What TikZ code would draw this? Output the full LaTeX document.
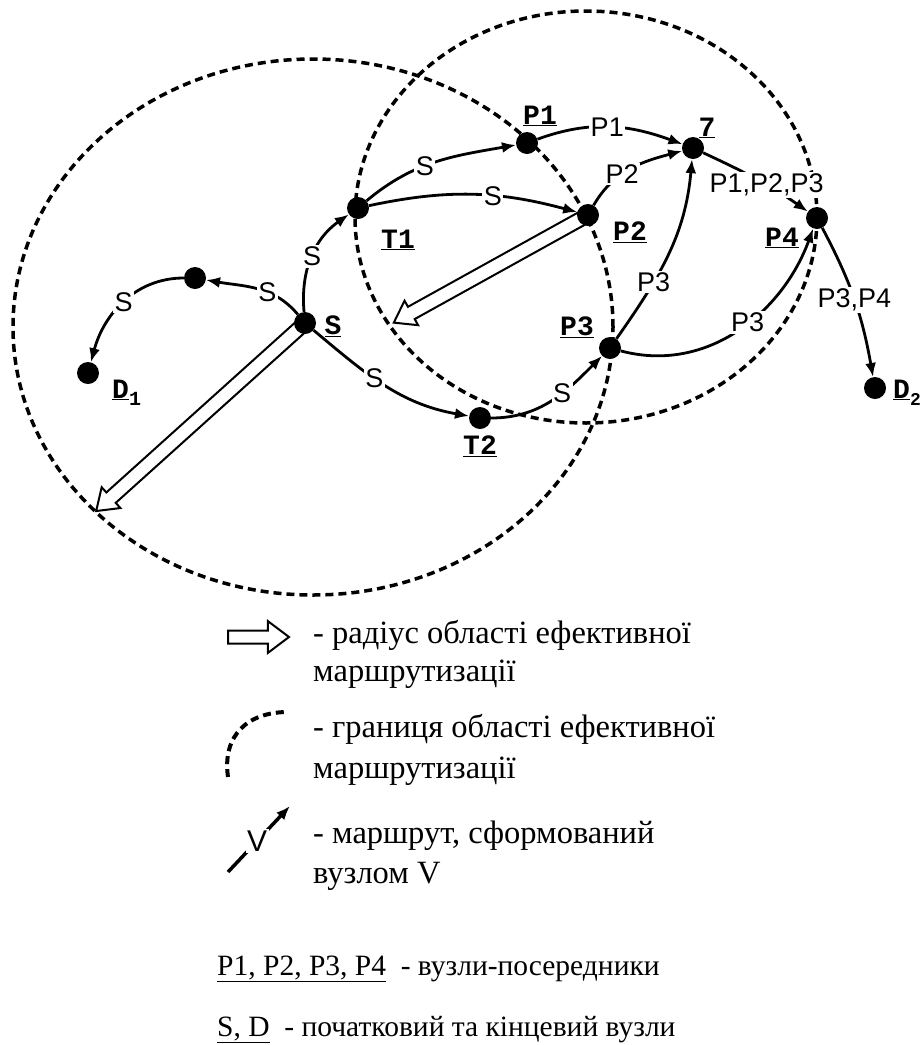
\documentclass[tikz,border=0pt]{standalone}
\usepackage{fontspec}
\setmainfont{Liberation Serif}
\setsansfont{Liberation Sans}
\setmonofont{Liberation Mono}
\usetikzlibrary{arrows.meta,shapes.arrows,calc}
\tikzset{
  dot/.style={circle, fill=black, inner sep=0pt, minimum size=22pt},
  zone/.style={line width=3.5pt, dash pattern=on 8pt off 5pt},
  route/.style={line width=2.8pt, -{Latex[length=14pt,width=11pt]}},
  rlab/.style={fill=white, inner sep=1.5pt, font=\fontsize{27}{27}\selectfont\sffamily},
  nlab/.style={inner sep=0pt, font=\fontsize{28}{28}\selectfont\ttfamily\bfseries},
  radarrow/.style={single arrow, draw, line width=2pt, fill=white, inner xsep=0pt,
     inner ysep=6pt, single arrow head extend=7pt, single arrow tip angle=70, anchor=tail},
  legtxt/.style={anchor=base west, inner sep=0pt, font=\fontsize{32.5}{32.5}\selectfont},
  keytxt/.style={anchor=base west, inner sep=0pt, font=\fontsize{29.5}{29.5}\selectfont},
}
\begin{document}
\begin{tikzpicture}[x=1pt,y=1pt]
\useasboundingbox (0,0) rectangle (923,-1045);
% positions
\coordinate (cS)  at (305,-323);
\coordinate (cT1) at (358,-208);
\coordinate (cT2) at (480,-418);
\coordinate (cU)  at (195,-278);
\coordinate (cD1) at (88,-373);
\coordinate (cP1) at (527,-143);
\coordinate (cP2) at (588,-215);
\coordinate (cP3) at (610,-348);
\coordinate (c7)  at (693,-148);
\coordinate (cP4) at (817,-218);
\coordinate (cD2) at (875,-388);
% zones
\draw[zone] (313,-327) ellipse [x radius=300pt, y radius=268pt];
\draw[zone] (586,-217) ellipse [x radius=231pt, y radius=206pt];
% radius arrows
\node[radarrow, minimum height=280pt, rotate=222] (rad1) at (cS) {};
\node[radarrow, minimum height=221pt, rotate=209] (rad2) at (cP2) {};
% nodes
\node[dot] (S)  at (cS) {};
\node[dot] (T1) at (cT1) {};
\node[dot] (T2) at (cT2) {};
\node[dot] (U)  at (cU) {};
\node[dot] (D1) at (cD1) {};
\node[dot] (P1) at (cP1) {};
\node[dot] (P2) at (cP2) {};
\node[dot] (P3) at (cP3) {};
\node[dot] (N7) at (c7) {};
\node[dot] (P4) at (cP4) {};
\node[dot] (D2) at (cD2) {};
% routes
\draw[route] (S) to[out=95,in=215] node[rlab,pos=0.5] {S} (T1);
\draw[route] (T1) to[out=40,in=190] node[rlab,pos=0.42] {S} (P1);
\draw[route] (T1) to[out=12,in=165] node[rlab,pos=0.6] {S} (P2);
\draw[route] (S) to[out=130,in=-10] node[rlab,pos=0.38] {S} (U);
\draw[route] (U) to[out=180,in=75] node[rlab,pos=0.5] {S} (D1);
\draw[route] (S) to[out=-40,in=170] node[rlab,pos=0.42] {S} (T2);
\draw[route] (T2) to[out=0,in=225] node[rlab,pos=0.6] {S} (P3);
\draw[route] (P1) to[out=20,in=160] node[rlab,pos=0.48] {P1} (N7);
\draw[route] (P2) to[out=60,in=195] node[rlab,pos=0.4] {P2} (N7);
\draw[route] (P3) to[out=55,in=265] node[rlab,pos=0.33] {P3} (N7);
\draw[route] (N7) to[out=-25,in=145] node[rlab,pos=0.6] {P1,P2,P3} (P4);
\draw[route] (P3) to[out=-15,in=250] node[rlab,pos=0.55] {P3} (P4);
\draw[route] (P4) to[out=-62,in=100] node[rlab,pos=0.5] {P3,P4} (D2);
% node labels
\node[nlab] (lS)  at (333,-326) {\underline{S}};
\node[nlab] (lT1) at (398,-240) {\underline{T1}};
\node[nlab] (lT2) at (480,-446) {\underline{T2}};
\node[nlab] (lP1) at (540,-116) {\underline{P1}};
\node[nlab] (l7)  at (707,-128) {\underline{7}};
\node[nlab] (lP2) at (630,-232) {\underline{P2}};
\node[nlab] (lP3) at (577,-327) {\underline{P3}};
\node[nlab] (lP4) at (782,-238) {\underline{P4}};
\node[nlab, anchor=base west] (lD1) at (112,-398) {\underline{D}\raisebox{-7pt}{\fontsize{20}{20}\selectfont 1}};
\node[nlab, anchor=base west] (lD2) at (893,-398) {\underline{D}\raisebox{-7pt}{\fontsize{18}{18}\selectfont 2}};
% legend
\node[radarrow, minimum height=61pt, inner ysep=5.5pt, single arrow head extend=9.5pt, single arrow tip angle=74] (legA) at (227,-637) {};
\draw[zone, line width=4pt] (228,-777) .. controls (222,-735) and (248,-712) .. (288,-712);
\coordinate (v1) at (228,-872);
\coordinate (v2) at (290,-806);
\draw[route, line width=3.5pt] (v1) -- node[rlab,pos=0.47,font=\fontsize{30}{30}\selectfont\sffamily] {V} (v2);
\node[legtxt] (t1) at (313,-643) {- радіус області ефективної};
\node[legtxt] (t2) at (313,-681) {маршрутизації};
\node[legtxt] (t3) at (313,-737) {- границя області ефективної};
\node[legtxt] (t4) at (313,-778) {маршрутизації};
\node[legtxt] (t5) at (313,-843) {- маршрут, сформований};
\node[legtxt] (t6) at (313,-883) {вузлом V};
\node[keytxt] (t7) at (217,-975) {\underline{P1, P2, P3, P4}\ \ - вузли-посередники};
\node[keytxt] (t8) at (217,-1036) {\underline{S, D}\ \ - початковий та кінцевий вузли};
\end{tikzpicture}
\end{document}
